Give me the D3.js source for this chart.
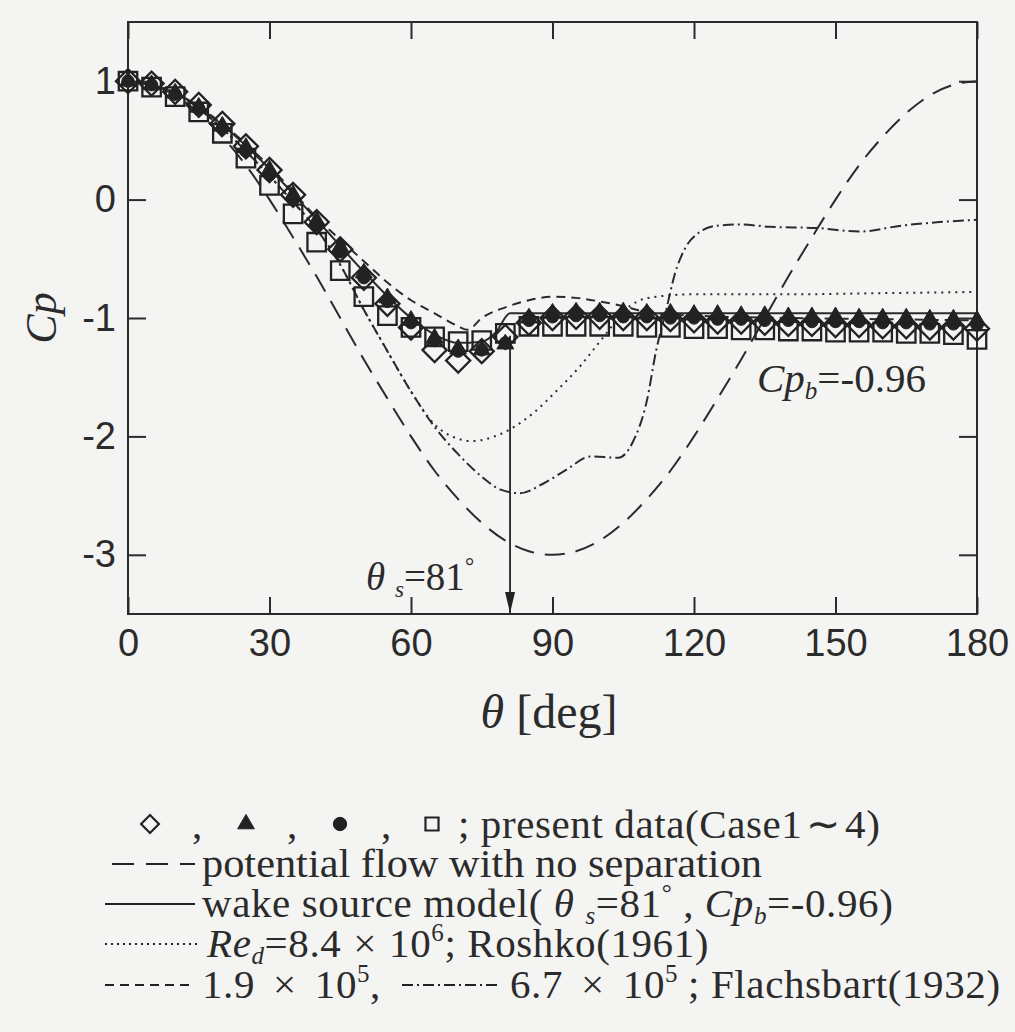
<!DOCTYPE html>
<html>
<head>
<meta charset="utf-8">
<script src="https://cdn.jsdelivr.net/npm/d3@7"></script>
<style>
  body { margin: 0; background: #f4f4f2; }
  svg { display: block; }
  .frame { fill: none; stroke: #2b2b2b; stroke-width: 2; }
  .axis path { display: none; }
  .axis line { stroke: #2b2b2b; stroke-width: 2; }
  .axis text { font-family: "Liberation Sans", Arial, sans-serif; font-size: 38px; fill: #2b2b2b; }
  .curve { fill: none; stroke: #2b2b2b; stroke-width: 2; }
  .serif { font-family: "Liberation Serif", "Times New Roman", serif; fill: #2b2b2b; }
  .leg { letter-spacing: 0.6px; }
</style>
</head>
<body>
<script>
var W = 1015, H = 1032;

// present data, theta every 5 deg
var theta = [0,5,10,15,20,25,30,35,40,45,50,55,60,65,70,75,80,85,90,95,100,105,110,115,120,125,130,135,140,145,150,155,160,165,170,175,180];
var case1 = [1.0,0.98,0.91,0.8,0.64,0.45,0.25,0.04,-0.19,-0.42,-0.66,-0.88,-1.08,-1.27,-1.36,-1.28,-1.16,-1.04,-1.0,-0.99,-0.99,-1.0,-1.0,-1.01,-1.02,-1.03,-1.03,-1.04,-1.05,-1.05,-1.06,-1.06,-1.07,-1.07,-1.08,-1.08,-1.09];
var case2 = [1.0,0.97,0.9,0.78,0.62,0.44,0.25,0.04,-0.18,-0.4,-0.62,-0.83,-1.02,-1.17,-1.26,-1.27,-1.22,-1.0,-0.96,-0.95,-0.95,-0.95,-0.96,-0.96,-0.97,-0.97,-0.98,-0.98,-0.99,-0.99,-0.99,-1.0,-1.0,-1.0,-1.01,-1.01,-1.02];
var case3 = [1.0,0.97,0.89,0.77,0.6,0.41,0.21,0.0,-0.22,-0.44,-0.66,-0.86,-1.04,-1.19,-1.28,-1.27,-1.21,-1.02,-0.99,-0.98,-0.98,-0.99,-0.99,-1.0,-1.0,-1.01,-1.01,-1.02,-1.02,-1.03,-1.03,-1.03,-1.04,-1.04,-1.05,-1.05,-1.06];
var case4 = [1.0,0.95,0.87,0.74,0.56,0.35,0.12,-0.12,-0.36,-0.6,-0.82,-0.98,-1.08,-1.16,-1.2,-1.19,-1.13,-1.07,-1.07,-1.07,-1.07,-1.07,-1.08,-1.08,-1.09,-1.09,-1.1,-1.1,-1.11,-1.11,-1.12,-1.12,-1.12,-1.13,-1.13,-1.14,-1.18];

// potential flow with no separation
var potTheta = [0,5,10,15,20,25,30,35,40,45,50,55,60,65,70,75,80,85,90,95,100,105,110,115,120,125,130,135,140,145,150,155,160,165,170,175,180];
var potCp = [1.0,0.97,0.88,0.73,0.53,0.29,0.0,-0.32,-0.65,-1.0,-1.35,-1.68,-2.0,-2.29,-2.53,-2.73,-2.88,-2.97,-3.0,-2.97,-2.88,-2.73,-2.53,-2.29,-2.0,-1.68,-1.35,-1.0,-0.65,-0.32,0.0,0.29,0.53,0.73,0.88,0.97,1.0];

// wake source model
var wakeTheta = [0,10,20,30,40,50,60,65,70,75,78,81,90,100,120,140,160,180];
var wakeCp = [1.0,0.9,0.63,0.26,-0.17,-0.61,-1.0,-1.14,-1.21,-1.2,-1.12,-0.96,-0.96,-0.96,-0.96,-0.96,-0.96,-0.96];

// Roshko(1961), Re=8.4e6
var roshTheta = [0,10,20,30,35,40,45,50,55,60,65,70,73,77,81,86,91,96,100,102,105,108,112,120,140,160,180];
var roshCp = [1.0,0.9,0.6,0.2,-0.02,-0.25,-0.55,-0.93,-1.28,-1.62,-1.9,-2.02,-2.04,-2.01,-1.94,-1.8,-1.61,-1.4,-1.2,-1.1,-0.95,-0.86,-0.82,-0.8,-0.8,-0.79,-0.78];

// Flachsbart(1932), Re=1.9e5
var fl19Theta = [0,10,20,30,40,50,55,60,65,70,72,75,80,85,90,95,100,105,110,120,140,160,180];
var fl19Cp = [1.0,0.9,0.64,0.28,-0.15,-0.52,-0.7,-0.85,-0.96,-1.07,-1.1,-1.0,-0.91,-0.85,-0.82,-0.83,-0.86,-0.9,-0.95,-0.98,-1.0,-1.01,-1.02];

// Flachsbart(1932), Re=6.7e5
var fl67Theta = [0,10,20,30,35,40,45,50,55,60,65,70,75,79,83,88,93,98,104,107,110,112,114,116,118,121,125,130,136,146,155,164,172,180];
var fl67Cp = [1.0,0.9,0.6,0.2,-0.02,-0.25,-0.55,-0.93,-1.28,-1.62,-1.92,-2.15,-2.34,-2.45,-2.48,-2.4,-2.28,-2.17,-2.18,-2.05,-1.7,-1.27,-0.95,-0.62,-0.42,-0.28,-0.22,-0.21,-0.23,-0.24,-0.27,-0.22,-0.19,-0.17];

var thetaTicks = [0,30,60,90,120,150,180];
var cpTicks = [1,0,-1,-2,-3];
var thetaS = 81, cpArrowTop = -1.15;

var svg = d3.select("body").append("svg").attr("width", W).attr("height", H);

var x = d3.scaleLinear().domain([0, 180]).range([128, 977]);
var y = d3.scaleLinear().domain([-3.5, 1.5]).range([614, 22]);

function pairs(t, v) {
  return t.map(function (d, i) { return [d, v[i]]; });
}

var line = d3.line()
  .x(function (d) { return x(d[0]); })
  .y(function (d) { return y(d[1]); })
  .curve(d3.curveMonotoneX);

// axes, ticks inward
svg.append("g").attr("class", "axis").attr("transform", "translate(0," + y(-3.5) + ")")
  .call(d3.axisBottom(x).tickValues(thetaTicks).tickSize(-17).tickPadding(15).tickSizeOuter(0));
svg.append("g").attr("class", "axis").attr("transform", "translate(0," + y(1.5) + ")")
  .call(d3.axisTop(x).tickValues(thetaTicks).tickSize(-17).tickFormat("").tickSizeOuter(0));
svg.append("g").attr("class", "axis").attr("transform", "translate(" + x(0) + ",0)")
  .call(d3.axisLeft(y).tickValues(cpTicks).tickSize(-18).tickPadding(12).tickSizeOuter(0)
    .tickFormat(function (d) { return String(d); }));
svg.append("g").attr("class", "axis").attr("transform", "translate(" + x(180) + ",0)")
  .call(d3.axisRight(y).tickValues(cpTicks).tickSize(-18).tickFormat("").tickSizeOuter(0));

svg.append("rect").attr("class", "frame")
  .attr("x", x(0)).attr("y", y(1.5))
  .attr("width", x(180) - x(0)).attr("height", y(-3.5) - y(1.5));

// curves
svg.append("path").datum(pairs(potTheta, potCp)).attr("class", "curve")
  .attr("stroke-dasharray", "20,11").attr("d", line);
svg.append("path").datum(pairs(roshTheta, roshCp)).attr("class", "curve")
  .attr("stroke-dasharray", "2,5").attr("d", line);
svg.append("path").datum(pairs(fl19Theta, fl19Cp)).attr("class", "curve")
  .attr("stroke-dasharray", "9,6").attr("d", line);
svg.append("path").datum(pairs(fl67Theta, fl67Cp)).attr("class", "curve")
  .attr("stroke-dasharray", "11,4,2,4").attr("d", line);
svg.append("path").datum(pairs(wakeTheta, wakeCp)).attr("class", "curve")
  .attr("stroke-width", 1.8).attr("d", line);

// markers
var sq = d3.symbol().type(d3.symbolSquare);
function markers(vals, path, rot, fill) {
  svg.append("g").selectAll("path").data(pairs(theta, vals)).enter().append("path")
    .attr("d", path)
    .attr("transform", function (d) { return "translate(" + x(d[0]) + "," + y(d[1]) + ") rotate(" + rot + ")"; })
    .attr("fill", fill ? "#222" : "none")
    .attr("stroke", "#222")
    .attr("stroke-width", fill ? 1 : 2.3);
}
markers(case1, sq.size(290)(), 45, false);
markers(case4, sq.size(340)(), 0, false);
markers(case3, d3.symbol().type(d3.symbolCircle).size(120)(), 0, true);
markers(case2, d3.symbol().type(d3.symbolTriangle).size(125)(), 0, true);

// separation arrow
svg.append("line").attr("x1", x(thetaS)).attr("x2", x(thetaS))
  .attr("y1", y(cpArrowTop)).attr("y2", y(-3.5) - 1)
  .attr("stroke", "#222").attr("stroke-width", 1.8);
svg.append("path").attr("d", "M" + (x(thetaS) - 5) + "," + (y(-3.5) - 22) + " L" + (x(thetaS) + 5) + "," + (y(-3.5) - 22) + " L" + x(thetaS) + "," + (y(-3.5) - 1) + " Z")
  .attr("fill", "#222");

// rich text helper: parts {t, it, sub, sup, dx}
function rich(sel, parts, size) {
  var shift = 0;
  parts.forEach(function (p) {
    var target = p.sub ? 0.18 * size : (p.sup ? -0.4 * size : 0);
    var ts = sel.append("tspan").text(p.t).attr("dy", target - shift);
    shift = target;
    if (p.dx) ts.attr("dx", p.dx);
    if (p.it) ts.attr("font-style", "italic");
    if (p.sub || p.sup) ts.attr("font-size", Math.round(size * 0.6));
  });
  return sel;
}

// annotations
rich(svg.append("text").attr("class", "serif").attr("x", 366).attr("y", 590).attr("font-size", 39),
  [{t: "θ", it: true}, {t: " "}, {t: "s", it: true, sub: true}, {t: "=81"}, {t: "°", sup: true}], 39);
rich(svg.append("text").attr("class", "serif").attr("x", 757).attr("y", 392).attr("font-size", 41),
  [{t: "Cp", it: true}, {t: "b", it: true, sub: true}, {t: "=-0.96"}], 41);

// axis titles
rich(svg.append("text").attr("class", "serif").attr("x", 549).attr("y", 728).attr("font-size", 48)
  .attr("text-anchor", "middle"), [{t: "θ", it: true}, {t: " [deg]"}], 48);
svg.append("text").attr("class", "serif").attr("transform", "translate(56,318) rotate(-90)")
  .attr("text-anchor", "middle").attr("font-size", 44).attr("font-style", "italic").text("Cp");

// legend
var fs = 41;
var rows = [838, 877, 917, 957, 998];
var symX = [150, 246, 340, 432];
var commaX = [197, 292, 386];
var symPaths = [
  {p: sq.size(160)(), r: 45, f: false},
  {p: d3.symbol().type(d3.symbolTriangle).size(120)(), r: 0, f: true},
  {p: d3.symbol().type(d3.symbolCircle).size(140)(), r: 0, f: true},
  {p: sq.size(170)(), r: 0, f: false}
];
symPaths.forEach(function (s, i) {
  svg.append("path").attr("d", s.p)
    .attr("transform", "translate(" + symX[i] + "," + (rows[0] - 14) + ") rotate(" + s.r + ")")
    .attr("fill", s.f ? "#222" : "none").attr("stroke", "#222").attr("stroke-width", s.f ? 1 : 2.2);
});
commaX.forEach(function (cx) {
  svg.append("text").attr("class", "serif").attr("font-size", fs)
    .attr("x", cx).attr("y", rows[0]).attr("text-anchor", "middle").text(",");
});
rich(svg.append("text").attr("class", "serif leg").attr("font-size", fs).attr("x", 458).attr("y", rows[0]),
  [{t: "; present data(Case1"}, {t: "∼", dx: 4}, {t: "4)", dx: 4}], fs);

function sample(y0, x0, x1, dash) {
  svg.append("line").attr("x1", x0).attr("x2", x1).attr("y1", y0).attr("y2", y0)
    .attr("stroke", "#222").attr("stroke-width", 2).attr("stroke-dasharray", dash);
}
sample(rows[1] - 13, 112, 195, "22,12");
svg.append("text").attr("class", "serif").attr("font-size", fs).attr("x", 202).attr("y", rows[1])
  .attr("textLength", 560).attr("lengthAdjust", "spacingAndGlyphs")
  .text("potential flow with no separation");

sample(rows[2] - 13, 105, 195, null);
rich(svg.append("text").attr("class", "serif leg").attr("font-size", fs).attr("x", 202).attr("y", rows[2]),
  [{t: "wake source model( "}, {t: "θ", it: true}, {t: " "}, {t: "s", it: true, sub: true}, {t: "=81"},
   {t: "°", sup: true}, {t: " , "}, {t: "Cp", it: true}, {t: "b", it: true, sub: true}, {t: "=-0.96)"}], fs);

sample(rows[3] - 13, 105, 197, "2,4");
rich(svg.append("text").attr("class", "serif leg").attr("font-size", fs).attr("x", 207).attr("y", rows[3]),
  [{t: "Re", it: true}, {t: "d", it: true, sub: true}, {t: "=8.4"}, {t: "×", dx: 12}, {t: "10", dx: 12},
   {t: "6", sup: true}, {t: "; Roshko(1961)"}], fs);

sample(rows[4] - 13, 105, 192, "9,6");
rich(svg.append("text").attr("class", "serif leg").attr("font-size", fs).attr("x", 202).attr("y", rows[4]),
  [{t: "1.9"}, {t: "×", dx: 18}, {t: "10", dx: 18}, {t: "5", sup: true}, {t: ","}], fs);
sample(rows[4] - 13, 402, 497, "11,4,2,4");
rich(svg.append("text").attr("class", "serif leg").attr("font-size", fs).attr("x", 510).attr("y", rows[4]),
  [{t: "6.7"}, {t: "×", dx: 18}, {t: "10", dx: 18}, {t: "5", sup: true}, {t: "; Flachsbart(1932)", dx: 10}], fs);
</script>
</body>
</html>
